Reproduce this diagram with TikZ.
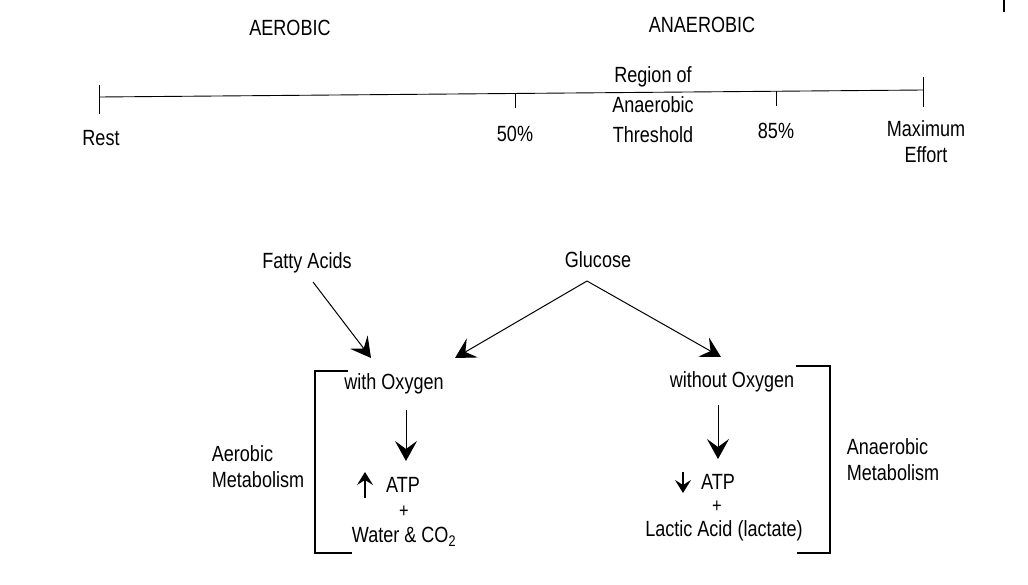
\documentclass[tikz,border=0pt]{standalone}
\usepackage{fontspec}
\setmainfont{Liberation Sans}[FakeStretch=0.82]
\usetikzlibrary{arrows.meta}
\begin{document}
\begin{tikzpicture}[x=1pt,y=-1pt,
  lbl/.style={font=\fontsize{22}{26}\selectfont, inner sep=0pt, align=center},
  lbll/.style={lbl, align=left},
  plus/.style={font=\fontsize{20}{22}\selectfont, inner sep=0pt},
  ln/.style={line width=0.9pt},
  arr/.style={line width=1pt, -{Stealth[length=20pt,width=22pt,inset=8pt]}},
  sarr/.style={line width=1.4pt, -{Stealth[length=13pt,width=16pt,inset=5pt]}},
  brk/.style={line width=1.6pt}]
\useasboundingbox (0,0) rectangle (1028,584);
% top scale
\node[lbl] (aer) at (290,28) {AEROBIC};
\node[lbl] (anaer) at (702,25) {ANAEROBIC};
\coordinate (L) at (99,97);
\coordinate (R) at (923,90);
\draw[ln] (L) -- (R);
\draw[ln] (99,85) -- (99,114);
\draw[ln] (923,77) -- (923,107);
\draw[line width=0.7pt] (515,93) -- (515,108);
\draw[line width=0.7pt] (776,91) -- (776,106);
\draw[line width=1.5pt] (1004,0) -- (1004,12);
\node[lbl] (rest) at (101,138) {Rest};
\node[lbl] (p50) at (515,134) {50\%};
\node[lbl] (p85) at (776,131) {85\%};
\node[lbl, font=\fontsize{22}{30}\selectfont] (reg) at (653,105) {Region of\\Anaerobic\\Threshold};
\node[lbl] (max) at (926,142) {Maximum\\Effort};
% lower
\node[lbl] (fa) at (307,263) {Fatty Acids};
\node[lbl] (glu) at (598,260) {Glucose};
\coordinate (apex) at (587,281);
\node[lbl] (wo) at (394,384) {with Oxygen};
\node[lbl] (wto) at (732,382) {without Oxygen};
\coordinate (faend) at (371,358);
\coordinate (gl) at (455,358);
\coordinate (gr) at (721,357);
\draw[arr] (313,282) -- (faend);
\draw[arr] (apex) -- (gl);
\draw[arr] (apex) -- (gr);
% aerobic column
\draw[arr] (406,410) -- (406,461);
\node[lbl] (atp1) at (403,485) {ATP};
\draw[sarr] (365,498) -- (365,472);
\node[plus] (plus1) at (404,512) {+};
\node[lbl] (wat) at (404,537) {Water \& CO\textsubscript{2}};
\draw[brk] (348,371) -- (315,371) -- (315,553) -- (352,553);
\node[lbll] (aerm) at (258,467) {Aerobic\\Metabolism};
% anaerobic column
\draw[arr] (718,405) -- (718,459);
\node[lbl] (atp2) at (718,482) {ATP};
\draw[sarr] (683,472) -- (683,493);
\node[plus] (plus2) at (717,507) {+};
\node[lbl] (lac) at (724,531) {Lactic Acid (lactate)};
\draw[brk] (796,366) -- (830,366) -- (830,553) -- (797,553);
\node[lbll] (anm) at (893,460) {Anaerobic\\Metabolism};
\end{tikzpicture}
\end{document}
